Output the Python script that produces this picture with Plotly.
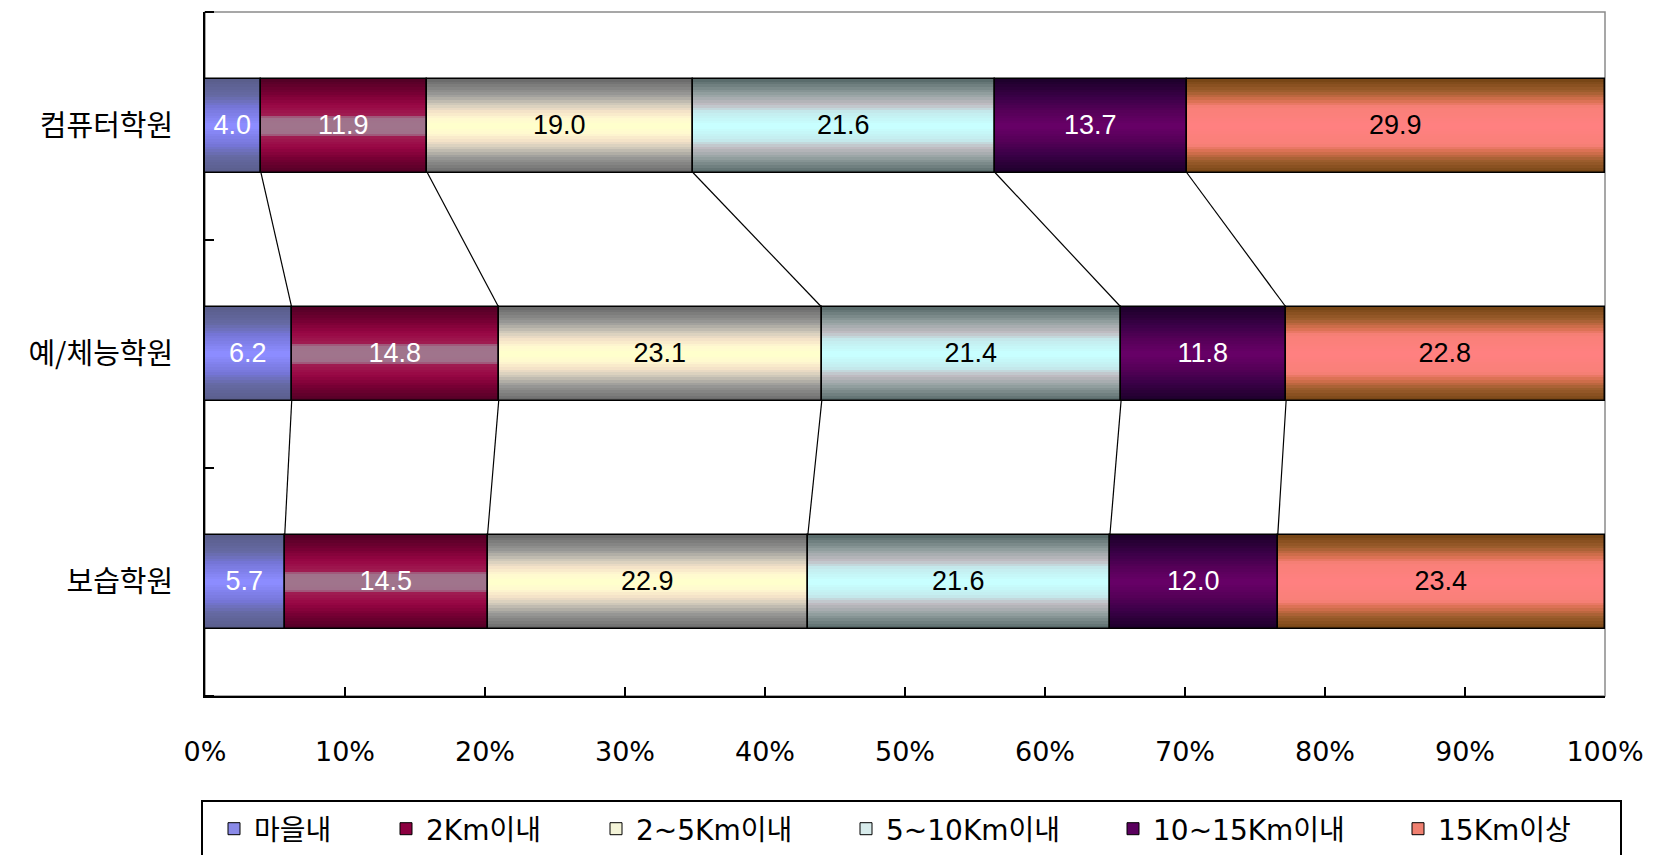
import plotly.graph_objects as go

# ---------------- data ----------------
categories = ["컴퓨터학원", "예/체능학원", "보습학원"]
series_names = ["마을내", "2Km이내", "2~5Km이내", "5~10Km이내", "10~15Km이내", "15Km이상"]
maeul = [4.0, 6.2, 5.7]
km_0_2 = [11.9, 14.8, 14.5]
km_2_5 = [19.0, 23.1, 22.9]
km_5_10 = [21.6, 21.4, 21.6]
km_10_15 = [13.7, 11.8, 12.0]
km_15_plus = [29.9, 22.8, 23.4]
x_tick_values = [0, 10, 20, 30, 40, 50, 60, 70, 80, 90, 100]
x_tick_labels = [f"{v}%" for v in x_tick_values]

series_values = [maeul, km_0_2, km_2_5, km_5_10, km_10_15, km_15_plus]

# ---------------- style ----------------
# gradient stops (position 0 = bar edge, 1 = bar centre)
gradients = [
    [(0, "#5a5e8c"), (0.35, "#666aa4"), (0.6, "#7676d8"), (1, "#8c8cff")],
    [(0, "#540026"), (0.3, "#780034"), (0.55, "#980644"), (0.78, "#a01c52"), (0.84, "#a0708a"), (1, "#a0748c")],
    [(0, "#6c6c6c"), (0.32, "#9a9a98"), (0.55, "#d4ccbc"), (0.7, "#f4e2c8"), (0.85, "#fff8d0"), (1, "#ffffcc")],
    [(0, "#5a6c6c"), (0.32, "#96a2a2"), (0.55, "#c2bec4"), (0.72, "#c4ecee"), (1, "#c8ffff")],
    [(0, "#1e002c"), (0.4, "#3c0048"), (0.7, "#560058"), (1, "#660066")],
    [(0, "#784616"), (0.25, "#9e5e2e"), (0.45, "#d87050"), (0.6, "#f88078"), (1, "#ff8080")],
]
legend_colors = ["#8a8ae8", "#8c0040", "#f4f4d8", "#d8ecec", "#5a005e", "#f08070"]
label_colors = ["white", "white", "black", "black", "white", "black"]
BAR_W = 0.41
N_LAYERS = 18

PLOT_L, PLOT_R, PLOT_T, PLOT_B = 205, 1605, 12, 696
FIG_W, FIG_H = 1653, 855
plot_w = PLOT_R - PLOT_L
plot_h = PLOT_B - PLOT_T
legend_marker_px = [230, 402, 612, 862, 1129, 1414]


def px_to_paper_x(px):
    return (px - PLOT_L) / plot_w


def px_to_paper_y(py):
    return (PLOT_B - py) / plot_h


def hex_to_rgb(h):
    h = h.lstrip("#")
    return [int(h[i:i + 2], 16) for i in (0, 2, 4)]


def grad_color(stops, t):
    for (p0, c0), (p1, c1) in zip(stops[:-1], stops[1:]):
        if p0 <= t <= p1:
            f = 0 if p1 == p0 else (t - p0) / (p1 - p0)
            a, b = hex_to_rgb(c0), hex_to_rgb(c1)
            r = [round(a[i] + (b[i] - a[i]) * f) for i in range(3)]
            return f"rgb({r[0]},{r[1]},{r[2]})"
    return stops[-1][1]


ypos = list(range(len(categories)))
totals = [sum(s[i] for s in series_values) for i in ypos]
pct = [[s[i] / totals[i] * 100 for i in ypos] for s in series_values]
bases = []
running = [0.0] * len(categories)
for p in pct:
    bases.append(list(running))
    running = [running[i] + p[i] for i in ypos]

fig = go.Figure()

label_font = dict(family="Liberation Sans, Arial, sans-serif", size=27)

for k, name in enumerate(series_names):
    leg_id = "legend" if k == 0 else f"legend{k + 1}"
    # legend carrier (full bar, hidden under gradient layers)
    fig.add_trace(go.Bar(
        y=ypos, x=pct[k], base=bases[k], orientation="h", width=BAR_W,
        name=name, legend=leg_id, showlegend=True,
        marker=dict(color=legend_colors[k], line=dict(color="black", width=1)),
        hoverinfo="skip",
    ))
    for j in range(N_LAYERS):
        t = j / (N_LAYERS - 1)
        fig.add_trace(go.Bar(
            y=ypos, x=pct[k], base=bases[k], orientation="h",
            width=BAR_W * (1 - j / N_LAYERS),
            marker=dict(color=grad_color(gradients[k], t), line=dict(width=0)),
            showlegend=False, hoverinfo="skip",
        ))
    # outline + value labels
    fig.add_trace(go.Bar(
        y=ypos, x=pct[k], base=bases[k], orientation="h", width=BAR_W,
        marker=dict(color="rgba(0,0,0,0)", line=dict(color="black", width=1.5)),
        text=[f"{v:.1f}" for v in series_values[k]],
        textposition="inside", insidetextanchor="middle", constraintext="none",
        textangle=0,
        insidetextfont=dict(family=label_font["family"], size=label_font["size"], color=label_colors[k]),
        showlegend=False, name=name,
        hovertemplate=name + ": %{text}<extra></extra>",
    ))

# series lines connecting segment boundaries between bars
for k in range(len(series_names) - 1):
    xs, ys = [], []
    for i in range(len(categories) - 1):
        xs += [bases[k][i] + pct[k][i], bases[k][i + 1] + pct[k][i + 1], None]
        ys += [ypos[i] + BAR_W / 2, ypos[i + 1] - BAR_W / 2, None]
    fig.add_trace(go.Scatter(
        x=xs, y=ys, mode="lines", line=dict(color="black", width=1.2),
        showlegend=False, hoverinfo="skip",
    ))

legend_font = dict(family="DejaVu Sans, Noto Sans CJK KR, sans-serif", size=28, color="black")
legends = {}
for k, mx in enumerate(legend_marker_px):
    key = "legend" if k == 0 else f"legend{k + 1}"
    legends[key] = dict(
        x=px_to_paper_x(mx - 16), xanchor="left",
        y=px_to_paper_y(829), yanchor="middle",
        orientation="h", bgcolor="rgba(0,0,0,0)", borderwidth=0,
        font=legend_font, itemclick=False, itemdoubleclick=False,
    )

fig.update_layout(
    width=FIG_W, height=FIG_H,
    margin=dict(l=PLOT_L, r=FIG_W - PLOT_R, t=PLOT_T, b=FIG_H - PLOT_B, autoexpand=False),
    barmode="overlay",
    plot_bgcolor="white", paper_bgcolor="white",
    bargap=0,
    **legends,
)

fig.update_xaxes(
    range=[0, 100], tickvals=x_tick_values, ticktext=x_tick_labels,
    ticks="inside", ticklen=9, tickwidth=1.5, tickcolor="black",
    showline=True, linecolor="black", linewidth=2,
    showgrid=False, zeroline=False,
    tickfont=dict(family="DejaVu Sans, sans-serif", size=27, color="black"),
    ticklabelstandoff=31,
)
fig.update_yaxes(
    range=[len(categories) - 0.5, -0.5], tickvals=ypos, ticktext=categories,
    ticks="", showline=True, linecolor="black", linewidth=2,
    showgrid=False, zeroline=False,
    minor=dict(tick0=0.5, dtick=1, ticks="inside", ticklen=9, tickwidth=1.5, tickcolor="black"),
    tickfont=dict(family="Noto Sans CJK KR, sans-serif", size=29, color="black"),
    ticklabelstandoff=24,
)

# light grey frame (top / right) and legend box
fig.add_shape(type="rect", xref="x domain", yref="y domain", x0=0, x1=1, y0=0, y1=1,
              line=dict(color="#8a8a8a", width=1.5), layer="below")
fig.add_shape(type="rect", xref="paper", yref="paper",
              x0=px_to_paper_x(202), x1=px_to_paper_x(1621),
              y0=px_to_paper_y(801), y1=px_to_paper_y(880),
              line=dict(color="black", width=2), fillcolor="rgba(0,0,0,0)")

fig.write_html(
    "out.html",
    config={"displayModeBar": False},
    post_script="document.body.style.margin='0';document.body.style.overflow='hidden';",
)
